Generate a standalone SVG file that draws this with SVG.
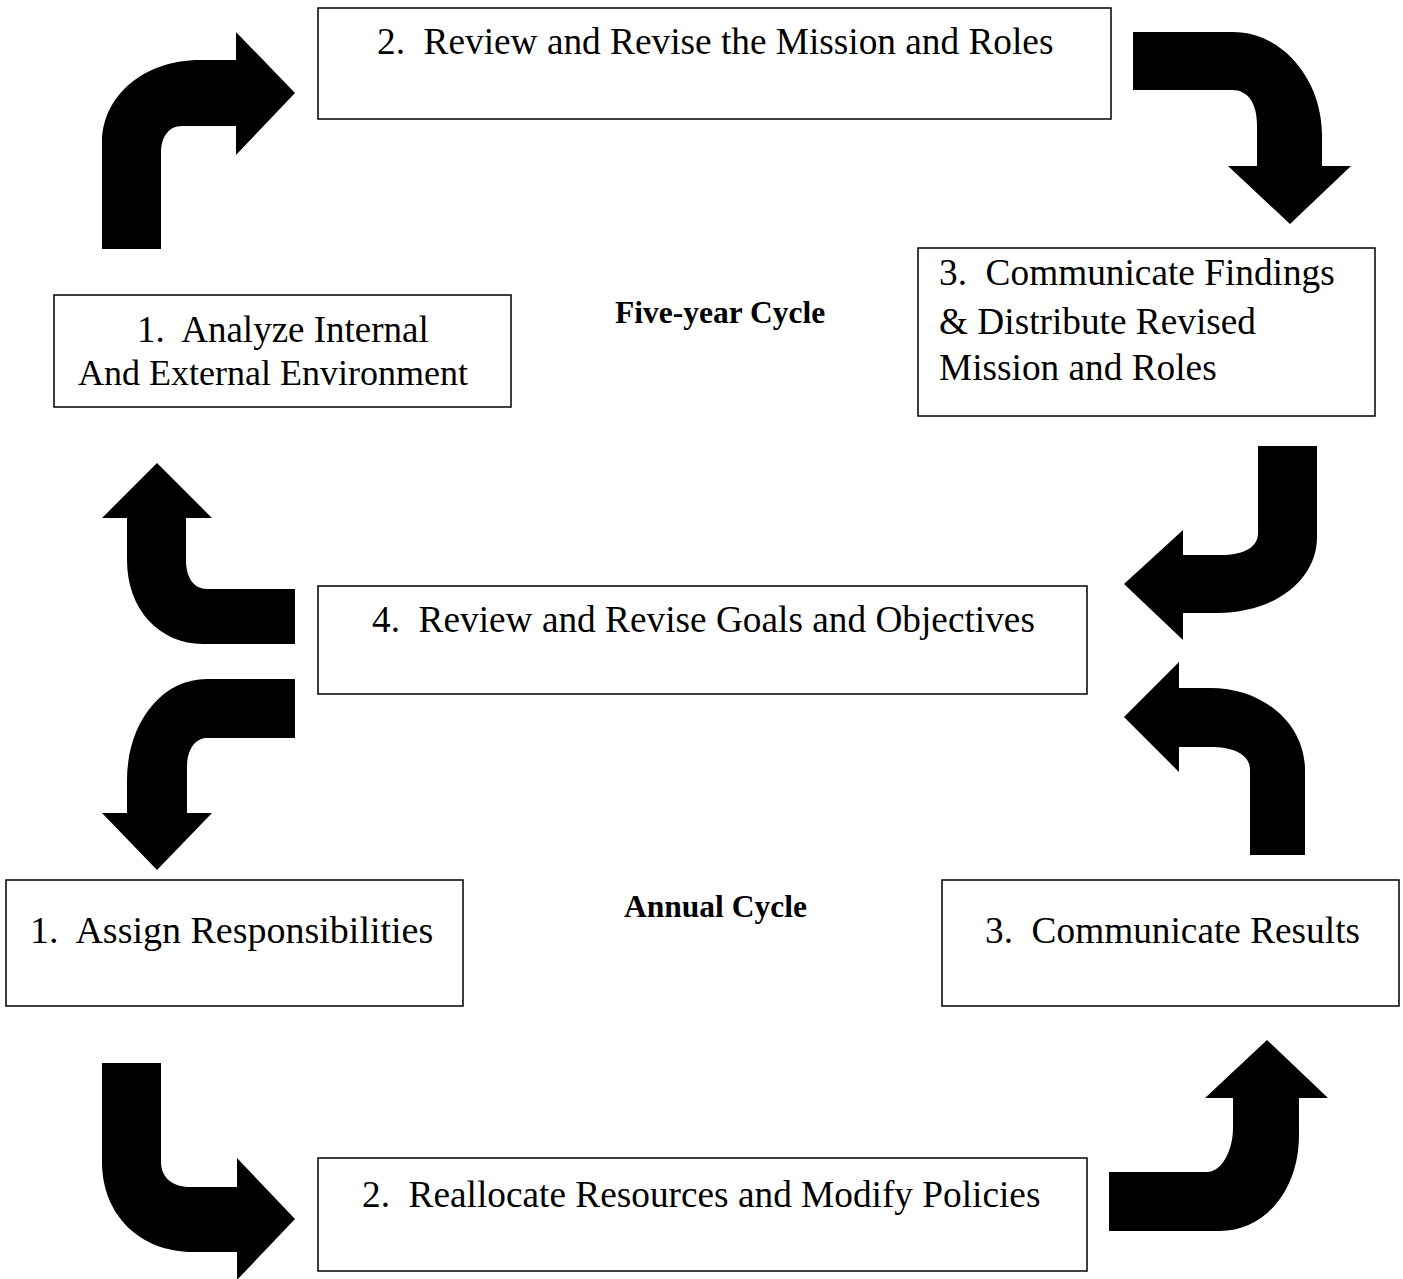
<svg xmlns="http://www.w3.org/2000/svg" width="1403" height="1279" viewBox="0 0 1403 1279">
<style>
.box{fill:#fff;stroke:#000;stroke-width:1.5}
.t{font-family:"Liberation Serif","Times New Roman",serif;font-size:37.3px;fill:#000}
.b{font-family:"Liberation Serif","Times New Roman",serif;font-size:31.5px;font-weight:bold;fill:#000}
.arr{fill:#000;stroke:none}
</style>
<rect width="1403" height="1279" fill="#fff"/>
<g id="connectors">
<path class="arr" d="M102,249 L102,143 C102,95 145,60 200,60 L236,60 L236,32 L295,93 L236,155 L236,126 L182,126 C168,126 161,138 161,153 L161,249 Z"/>
<path class="arr" d="M1133,32 L1233,32 C1283,32 1322,80 1322,135 L1322,166 L1351,166 L1290,224 L1228,166 L1257,166 L1257,125 C1257,103 1248,90 1232,90 L1133,90 Z"/>
<path class="arr" d="M1258,446 L1317,446 L1317,537 C1317,580 1275,613 1217,613 L1183,613 L1183,640 L1124,584 L1183,530 L1183,555 L1220,555 C1245,555 1258,547 1258,533 Z"/>
<path class="arr" d="M157,463 L212,518 L186,518 L186,560 C186,578 194,589 207,589 L295,589 L295,644 L203,644 C160,644 127,610 127,560 L127,518 L102,518 Z"/>
<path class="arr" d="M295,679 L295,738 L207,738 C195,738 187,750 187,767 L187,813 L212,813 L157,870 L102,813 L127,813 L127,780 C127,725 160,679 207,679 Z"/>
<path class="arr" d="M1124,717 L1179,662 L1179,688 L1210,688 C1265,688 1305,725 1305,770 L1305,855 L1250,855 L1250,770 C1250,755 1235,747 1210,747 L1179,747 L1179,772 Z"/>
<path class="arr" d="M102,1063 L161,1063 L161,1162 C161,1177 172,1187 190,1187 L237,1187 L237,1158 L295,1219 L237,1280 L237,1252 L193,1252 C140,1252 102,1215 102,1162 Z"/>
<path class="arr" d="M1109,1172 L1207,1172 C1222,1172 1233,1150 1233,1128 L1233,1098 L1205,1098 L1267,1040 L1328,1098 L1299,1098 L1299,1135 C1299,1190 1265,1231 1220,1231 L1109,1231 Z"/>
</g>
<g id="five-year-2">
<rect class="box" x="318" y="8" width="793" height="111"/>
<text class="t" x="377" y="54" xml:space="preserve">2.  Review and Revise the Mission and Roles</text>
</g>
<g id="five-year-1">
<rect class="box" x="54" y="295" width="457" height="112"/>
<text class="t" x="137" y="342" style="font-size:37px" xml:space="preserve">1.  Analyze Internal</text>
<text class="t" x="78" y="385" style="font-size:36px">And External Environment</text>
</g>
<g id="five-year-3">
<rect class="box" x="918" y="248" width="457" height="168"/>
<text class="t" x="939" y="285" xml:space="preserve">3.  Communicate Findings</text>
<text class="t" x="939" y="334">&amp; Distribute Revised</text>
<text class="t" x="939" y="380">Mission and Roles</text>
</g>
<g id="label-five-year">
<text class="b" x="615" y="323">Five-year Cycle</text>
</g>
<g id="five-year-4">
<rect class="box" x="318" y="586" width="769" height="108"/>
<text class="t" x="372" y="632" xml:space="preserve">4.  Review and Revise Goals and Objectives</text>
</g>
<g id="annual-1">
<rect class="box" x="6" y="880" width="457" height="126"/>
<text class="t" x="30" y="943" style="font-size:38px" xml:space="preserve">1.  Assign Responsibilities</text>
</g>
<g id="label-annual">
<text class="b" x="624" y="917">Annual Cycle</text>
</g>
<g id="annual-3">
<rect class="box" x="942" y="880" width="457" height="126"/>
<text class="t" x="985" y="943" xml:space="preserve">3.  Communicate Results</text>
</g>
<g id="annual-2">
<rect class="box" x="318" y="1158" width="769" height="113"/>
<text class="t" x="362" y="1207" xml:space="preserve">2.  Reallocate Resources and Modify Policies</text>
</g>
</svg>
